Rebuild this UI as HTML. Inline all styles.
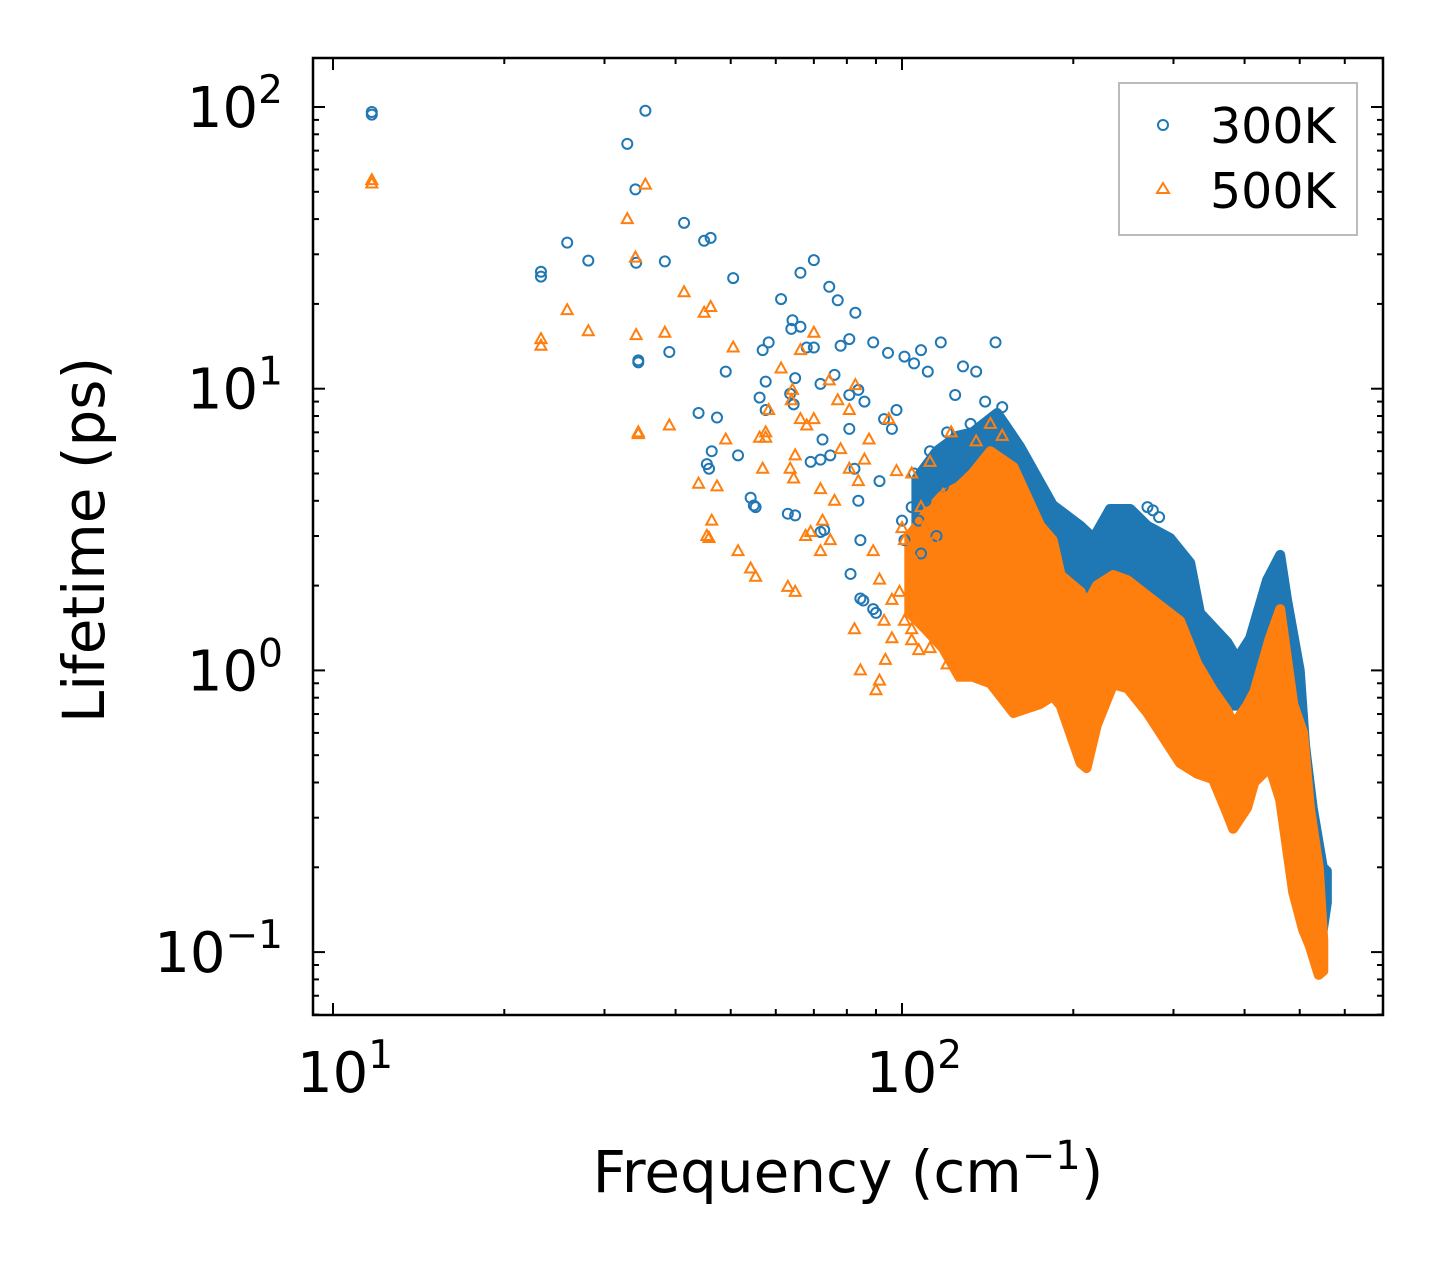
<!DOCTYPE html>
<html><head><meta charset="utf-8"><style>
body{margin:0;background:#fff}
svg{display:block;font-family:"DejaVu Sans","Liberation Sans",sans-serif}
</style></head><body>
<svg id="chart" width="1442" height="1265" viewBox="0 0 1442 1265" xmlns="http://www.w3.org/2000/svg">
<g id="bands"></g>
<g id="pts"></g>
<g id="axes"></g>
<rect x="313" y="58" width="1070" height="957" fill="none" stroke="#000" stroke-width="2.5"/>
<text x="848" y="1192" font-size="58" text-anchor="middle">Frequency (cm<tspan dy="-23" font-size="40">−1</tspan><tspan dy="23">)</tspan></text>
<text transform="translate(104,540) rotate(-90)" font-size="58" text-anchor="middle">Lifetime (ps)</text>
<g>
<rect x="1119" y="83" width="238" height="152" fill="#fff" stroke="#bbb" stroke-width="2"/>
<circle cx="1163" cy="125" r="5" fill="none" stroke="#1f77b4" stroke-width="2"/>
<text x="1210" y="143" font-size="49">300K</text>
<polygon points="1163,183 1169,193 1157,193" fill="none" stroke="#ff7f0e" stroke-width="2"/>
<text x="1210" y="208" font-size="49">500K</text>
</g>
</svg>
<script>
const f300=[11.7,11.7,23.2,23.2,25.8,28.1,32.9,34,35.4,34.1,34.4,34.4,38.3,41.4,39,44.9,46.1,43.9,47.3,50.5,45.4,46.3,45.8,51.5,49,54.2,55.3,54.9,56.9,58.3,57.6,61.3,63.9,66.3,70,64.2,66.3,68,64.9,63.6,64.5,56.2,57.6,63,64.9,70,74.5,77.1,82.8,80.8,78,71.9,76.1,72.5,74.8,71.9,69.1,73,71.9,80.8,83.8,85.9,89,94.5,80.8,82.5,83.8,84.5,81.2,84.5,85.5,90,89,91.3,93,96,97.8,101,105,108,111,101,104,107,117,146,128,135,124,140,150,132,120,112,105,118,127,110,100,115,108,270,276,283];
const l300=[96,94,26,25,33,28.5,74,51,97,28,12.6,12.4,28.3,38.8,13.5,33.5,34.3,8.2,7.9,24.7,5.4,6,5.2,5.8,11.5,4.1,3.8,3.85,13.7,14.6,10.6,20.8,16.3,25.8,28.6,17.5,16.6,14,10.9,9.6,8.8,9.3,8.4,3.6,3.55,14,23,20.6,18.6,15,14.2,10.4,11.2,6.6,5.8,5.6,5.5,3.15,3.1,9.5,9.9,9.0,14.6,13.4,7.2,5.2,4.0,2.9,2.2,1.8,1.77,1.6,1.65,4.7,7.8,7.2,8.4,13,12.3,13.7,11.5,2.9,3.8,3.4,14.6,14.6,12,11.5,9.5,9.0,8.6,7.5,7.0,6.0,5.0,4.5,5.5,4.0,3.4,3.0,2.6,3.8,3.7,3.5];
const f500=[11.7,11.7,23.2,23.2,25.8,28.1,32.9,34,35.4,34.1,34.4,34.4,38.3,41.4,39,44.9,46.1,43.9,47.3,50.5,45.4,46.3,45.8,51.5,49,54.2,55.3,56.9,58.3,57.6,61.3,63.9,66.3,70,64.2,66.3,68,64.9,63.6,64.5,56.2,57.6,63,64.9,70,74.5,77.1,82.8,80.8,78,71.9,76.1,72.5,74.8,71.9,69.1,67.7,82.5,80.8,83.8,85.9,84.5,90,91.3,93.5,89,91.3,93,96,101,105,108,111,101,104,107,87.5,94.8,97.8,122,135,112,104,118,108,100,114,106,120,99,110,116,104,125,112,96,120,128,143,150];
const l500=[55,53.5,15,14.2,19,16,40,29.2,53,15.5,7.0,6.9,15.8,22,7.4,18.6,19.5,4.6,4.5,14,3.0,3.4,2.95,2.65,6.6,2.3,2.15,5.2,8.4,7.0,11.8,9.1,13.7,15.8,9.9,7.8,7.4,5.8,5.2,4.8,6.7,6.7,1.98,1.9,7.8,10.7,9.1,10.3,8.4,6.1,4.4,4.0,3.4,2.9,2.65,3.1,3.0,1.4,5.2,4.7,5.6,1.0,0.85,0.92,1.09,2.65,2.1,1.5,1.78,2.9,2.47,2.1,3.4,1.5,1.28,1.18,6.6,7.8,5.1,7.0,6.5,5.5,5.0,4.2,3.8,3.2,2.9,2.4,2.2,1.9,1.8,1.5,1.4,1.3,1.2,1.3,1.05,0.95,7.5,6.8];
const bandF300=[106,115,125,133,147,161,184,206,217,232,252,270,296,321,334,373,388,409,438,462,475,500,511,527,549,558];
const bandHi300=[4.8,6.0,6.8,7.0,8.2,6.26,3.87,3.26,2.95,3.74,3.74,3.26,2.95,2.41,1.60,1.26,1.10,1.30,2.09,2.57,1.78,1.0,0.539,0.325,0.2,0.194];
const bandLo300=[3.2,3.2,3.0,3.0,3.0,2.5,2.0,1.8,1.5,1.5,1.4,1.3,1.1,1.0,0.9,0.75,0.75,0.8,0.9,1.0,0.9,0.6,0.4,0.2,0.12,0.15];
const bandF500=[103,110,118,126,133,143,157,175,184,190,206,211,220,235,249,270,308,330,352,373,382,404,416,443,462,487,507,521,540,550];
const bandHi500=[3.0,3.6,4.2,4.5,5.0,6.0,5.27,3.26,2.9,2.18,1.9,1.71,2.0,2.18,2.09,1.84,1.50,1.06,0.85,0.72,0.64,0.75,0.838,1.3,1.65,0.76,0.6,0.325,0.2,0.11];
const bandLo500=[1.6,1.4,1.2,0.95,0.95,0.9,0.706,0.76,0.811,0.75,0.469,0.45,0.64,0.893,0.865,0.706,0.469,0.43,0.411,0.31,0.274,0.325,0.40,0.454,0.347,0.163,0.12,0.105,0.083,0.0857];
const yTickVals=[0.1,1,10,100];
const yTickExp=["−1","0","1","2"];
const xTickVals=[10,100];
const xTickExp=["1","2"];

const NS="http://www.w3.org/2000/svg";
const X=f=>333+569*(Math.log10(f)-1);
const Y=v=>107+281.7*(2-Math.log10(v));
function mk(tag,attrs,parent){const e=document.createElementNS(NS,tag);for(const k in attrs)e.setAttribute(k,attrs[k]);parent.appendChild(e);return e;}
const bands=document.getElementById('bands'),pts=document.getElementById('pts'),axes=document.getElementById('axes');
function band(F,H,L,col,name,parent){
  const top=F.map((f,i)=>X(f)+','+Y(H[i]));
  const bot=F.map((f,i)=>X(f)+','+Y(L[i])).reverse();
  const p=mk('polygon',{points:top.concat(bot).join(' '),fill:col,stroke:col,'stroke-width':10,'stroke-linejoin':'round'},parent);
  
  
}
band(bandF300,bandHi300,bandLo300,'#1f77b4','band-300k',bands);
band(bandF500,bandHi500,bandLo500,'#ff7f0e','band-500k',bands);
f300.forEach((f,i)=>{const c=mk('circle',{cx:X(f),cy:Y(l300[i]),r:5,fill:'none',stroke:'#1f77b4','stroke-width':2},pts);
  
  });
f500.forEach((f,i)=>{const x=X(f),y=Y(l500[i]);const t=mk('polygon',{points:`${x},${y-6} ${x+5.5},${y+4} ${x-5.5},${y+4}`,fill:'none',stroke:'#ff7f0e','stroke-width':2},pts);
  
  });
const L=313,R=1383,T=58,B=1015;
function tick(x1,y1,x2,y2,name){const l=mk('line',{x1,y1,x2,y2,stroke:'#000','stroke-width':2},axes);
  
  }
for(let d=-2;d<=2;d++){for(let m=1;m<10;m++){const v=m*Math.pow(10,d);const y=Y(v);if(y<T||y>B)continue;const len=m===1?12:6;
  tick(L,y,L+len,y,'y-tick');tick(R,y,R-len,y,'y-tick-right');}}
for(let d=0;d<=2;d++){for(let m=1;m<10;m++){const v=m*Math.pow(10,d);const x=X(v);if(x<L||x>R)continue;const len=m===1?12:6;
  tick(x,B,x,B-len,'x-tick');tick(x,T,x,T+len,'x-tick-top');}}
yTickVals.forEach((v,i)=>{const t=mk('text',{x:283,y:Y(v)+20,'font-size':56,'text-anchor':'end'},axes);
  
  
  t.innerHTML='10<tspan dy="-24" font-size="39">'+yTickExp[i]+'</tspan>';});
xTickVals.forEach((v,i)=>{const t=mk('text',{x:X(v)+12,y:1092,'font-size':56,'text-anchor':'middle'},axes);
  
  
  t.innerHTML='10<tspan dy="-24" font-size="39">'+xTickExp[i]+'</tspan>';});
</script>
</body></html>
